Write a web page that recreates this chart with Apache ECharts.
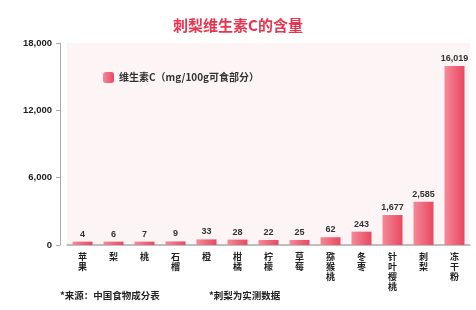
<!DOCTYPE html>
<html>
<head>
<meta charset="utf-8">
<script src="https://cdn.jsdelivr.net/npm/echarts@6/dist/echarts.min.js"></script>
<style>
    html, body { margin: 0; padding: 0; background: #fff; }
    #chart { width: 476px; height: 310px; }
</style>
</head>
<body>
<div id="chart"></div>
<script>
// 水果名称（竖排）
const fruits = ['苹果', '梨', '桃', '石榴', '橙', '柑橘', '柠檬', '草莓', '猕猴桃', '冬枣', '针叶樱桃', '刺梨', '冻干粉']
// 柱高（按图中柱子高度读出）
const heights = [300, 300, 300, 320, 500, 480, 450, 450, 690, 1190, 2670, 3860, 15950]
// 柱顶标注文字
const valueLabels = ['4', '6', '7', '9', '33', '28', '22', '25', '62', '243', '1,677', '2,585', '16,019']
const yTicks = [0, 6000, 12000, 18000]

let chart = echarts.init(document.getElementById('chart'))
chart.setOption({
    animation: false,
    title: {
        text: '刺梨维生素C的含量',
        left: 'center',
        top: 13,
        textStyle: {
            color: '#e8344e',
            fontSize: 15,
            fontWeight: 'bold',
            fontFamily: 'Noto Sans CJK SC'
        }
    },
    legend: {
        left: 98,
        top: 67,
        itemWidth: 11,
        itemHeight: 11,
        itemGap: 6,
        data: ['维生素C（mg/100g可食部分）'],
        textStyle: {
            fontSize: 10,
            color: '#333',
            fontWeight: 'bold',
            fontFamily: 'Noto Sans CJK SC'
        }
    },
    grid: {
        left: 67,
        right: 6,
        top: 43,
        bottom: 65,
        show: true,
        backgroundColor: '#fdf4f5',
        borderWidth: 0
    },
    xAxis: {
        type: 'category',
        data: fruits,
        axisLine: { lineStyle: { color: '#aaa', width: 1.5 } },
        axisTick: { show: false },
        axisLabel: {
            interval: 0,
            margin: 7,
            fontSize: 9,
            lineHeight: 10,
            color: '#222',
            fontWeight: 'bold',
            fontFamily: 'Noto Sans CJK SC',
            formatter: v => v.split('').join('\n')
        }
    },
    yAxis: {
        type: 'value',
        min: 0,
        max: yTicks[yTicks.length - 1],
        interval: yTicks[1] - yTicks[0],
        offset: 7,
        splitLine: { show: false },
        axisLine: { show: true, lineStyle: { color: '#aaa' } },
        axisTick: { show: true, length: 4, lineStyle: { color: '#aaa' } },
        axisLabel: {
            fontSize: 9.5,
            margin: 8,
            color: '#222',
            fontWeight: 'bold',
            formatter: v => v.toLocaleString('en-US')
        }
    },
    series: [{
        name: '维生素C（mg/100g可食部分）',
        type: 'bar',
        data: heights,
        barWidth: 20,
        itemStyle: {
            color: new echarts.graphic.LinearGradient(0, 0, 1, 0, [
                { offset: 0, color: '#f28a99' },
                { offset: 1, color: '#eb4760' }
            ])
        },
        label: {
            show: true,
            position: 'top',
            distance: 3,
            fontSize: 9,
            color: '#333',
            fontWeight: 'bold',
            formatter: p => valueLabels[p.dataIndex]
        }
    }],
    graphic: [
        {
            type: 'text',
            left: 60,
            top: 291,
            style: { text: '*来源：中国食物成分表', fontSize: 9.5, fill: '#222', fontWeight: 'bold', fontFamily: 'Noto Sans CJK SC' }
        },
        {
            type: 'text',
            left: 209,
            top: 291,
            style: { text: '*刺梨为实测数据', fontSize: 9.5, fill: '#222', fontWeight: 'bold', fontFamily: 'Noto Sans CJK SC' }
        }
    ]
})
</script>
</body>
</html>
